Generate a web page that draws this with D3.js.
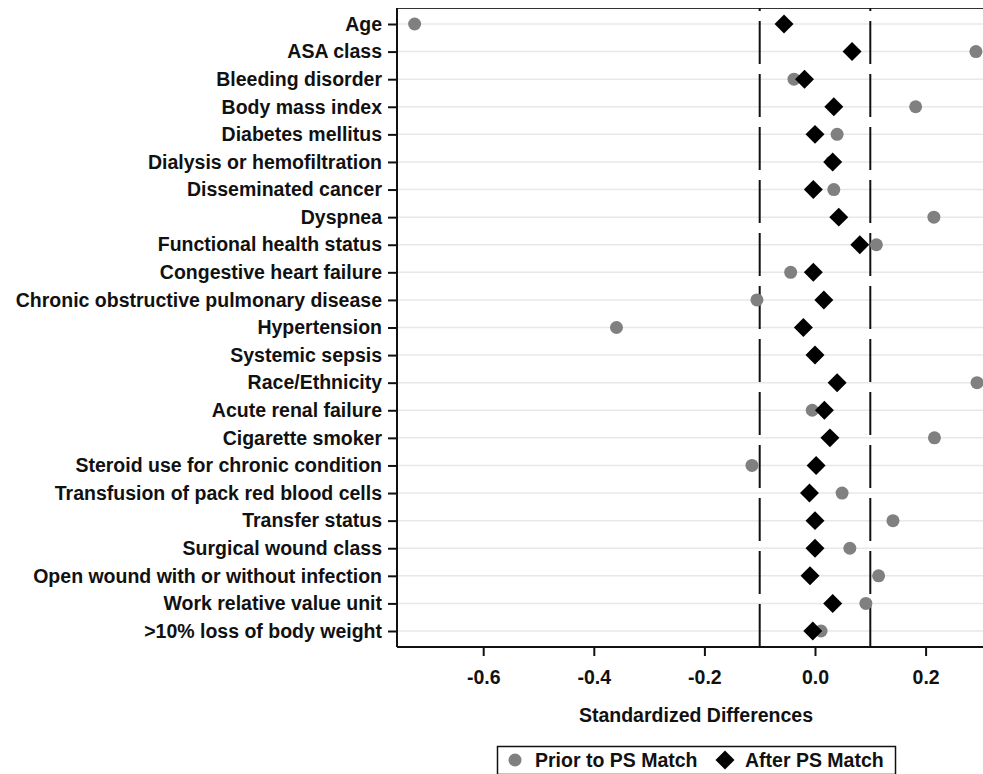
<!DOCTYPE html>
<html>
<head>
<meta charset="utf-8">
<script src="https://cdn.jsdelivr.net/npm/d3@7"></script>
<style>
  body { margin: 0; background: #fff; }
  svg { display: block; }
  text { font-family: "Liberation Sans", Arial, sans-serif; font-weight: bold; fill: #111; }
</style>
</head>
<body>
<div id="grafico"></div>
<script>
/*--- datos ---*/
let variables = [
  "Age", "ASA class", "Bleeding disorder", "Body mass index", "Diabetes mellitus",
  "Dialysis or hemofiltration", "Disseminated cancer", "Dyspnea", "Functional health status",
  "Congestive heart failure", "Chronic obstructive pulmonary disease", "Hypertension",
  "Systemic sepsis", "Race/Ethnicity", "Acute renal failure", "Cigarette smoker",
  "Steroid use for chronic condition", "Transfusion of pack red blood cells", "Transfer status",
  "Surgical wound class", "Open wound with or without infection", "Work relative value unit",
  ">10% loss of body weight"
];
let antes = [
  -0.724, 0.291, -0.038, 0.182, 0.040,
  0.030, 0.034, 0.215, 0.111,
  -0.044, -0.105, -0.359,
  0.000, 0.293, -0.005, 0.216,
  -0.114, 0.049, 0.141,
  0.063, 0.115, 0.092,
  0.011
];
let despues = [
  -0.056, 0.067, -0.019, 0.034, 0.000,
  0.032, -0.003, 0.043, 0.081,
  -0.003, 0.016, -0.021,
  0.000, 0.040, 0.017, 0.027,
  0.002, -0.010, 0.000,
  0.000, -0.009, 0.032,
  -0.004
];
let ticks_x = [-0.6, -0.4, -0.2, 0.0, 0.2];
let umbrales = [-0.1, 0.1];
let leyenda = ["Prior to PS Match", "After PS Match"];

/*--- Variables técnicas ---*/
let width = 983, height = 774;
let margen = { top: 8, left: 397, bottom: 647, right: 995 };
let letra = "19.5px";

let svg = d3.select("#grafico").append("svg")
  .attr("width", width).attr("height", height);

let x = d3.scaleLinear()
  .domain([(margen.left - 815) / 553, (margen.right - 815) / 553])
  .range([margen.left, margen.right]);

let y = d3.scalePoint()
  .domain(variables)
  .range([margen.top, margen.bottom])
  .padding(0.58);

// lineas grises de cada fila
svg.append("g").selectAll("line")
  .data(variables)
  .enter().append("line")
  .attr("x1", margen.left).attr("x2", margen.right)
  .attr("y1", d => y(d)).attr("y2", d => y(d))
  .style("stroke", "#e8e8e8")
  .style("stroke-width", 1.5);

// marco de arriba
svg.append("line")
  .attr("x1", margen.left).attr("x2", margen.right)
  .attr("y1", margen.top + 0.5).attr("y2", margen.top + 0.5)
  .style("stroke", "#333").style("stroke-width", 1);

// lineas punteadas en +-0.1
svg.append("g").selectAll("line")
  .data(umbrales)
  .enter().append("line")
  .attr("x1", d => x(d)).attr("x2", d => x(d))
  .attr("y1", margen.bottom).attr("y2", margen.top)
  .style("stroke", "#111")
  .style("stroke-width", 2)
  .style("stroke-dasharray", "43,10");

/*--- ejes ---*/
let ejeY = svg.append("g")
  .attr("transform", "translate(" + margen.left + ",0)")
  .call(d3.axisLeft(y).tickSize(9).tickPadding(6));
ejeY.selectAll("text").style("font-size", letra);

let ejeX = svg.append("g")
  .attr("transform", "translate(0," + margen.bottom + ")")
  .call(d3.axisBottom(x).tickValues(ticks_x).tickFormat(d => d.toFixed(1)).tickSize(9).tickPadding(14));
ejeX.selectAll("text").style("font-size", letra);

svg.selectAll(".domain").style("stroke", "#111").style("stroke-width", 2);
svg.selectAll(".tick line").style("stroke", "#111").style("stroke-width", 2);
ejeY.select(".domain").attr("d", "M0," + margen.top + "V" + margen.bottom);
ejeX.select(".domain").attr("d", "M" + margen.left + ",0H" + margen.right);

svg.append("text")
  .attr("x", (margen.left + margen.right) / 2)
  .attr("y", 722)
  .attr("text-anchor", "middle")
  .style("font-size", letra)
  .text("Standardized Differences");

/*--- puntos ---*/
let rombo = d3.symbol().type(d3.symbolSquare).size(180);

svg.append("g").selectAll("circle")
  .data(variables)
  .enter().append("circle")
  .attr("cx", (d, i) => x(antes[i]))
  .attr("cy", d => y(d))
  .attr("r", 6.5)
  .style("fill", "#808080");

svg.append("g").selectAll("path")
  .data(variables)
  .enter().append("path")
  .attr("d", rombo)
  .attr("transform", (d, i) => "translate(" + x(despues[i]) + "," + y(d) + ") rotate(45)")
  .style("fill", "#000");

/*--- leyenda ---*/
let ley = svg.append("g");
ley.append("rect")
  .attr("x", 497.5).attr("y", 746.5)
  .attr("width", 398).attr("height", 28)
  .style("fill", "#fff").style("stroke", "#111").style("stroke-width", 1.5);
ley.append("circle")
  .attr("cx", 515).attr("cy", 760).attr("r", 6.5)
  .style("fill", "#808080");
ley.append("text")
  .attr("x", 535).attr("y", 767)
  .style("font-size", letra)
  .text(leyenda[0]);
ley.append("path")
  .attr("d", rombo)
  .attr("transform", "translate(725,760) rotate(45)")
  .style("fill", "#000");
ley.append("text")
  .attr("x", 745).attr("y", 767)
  .style("font-size", letra)
  .text(leyenda[1]);
</script>
</body>
</html>
